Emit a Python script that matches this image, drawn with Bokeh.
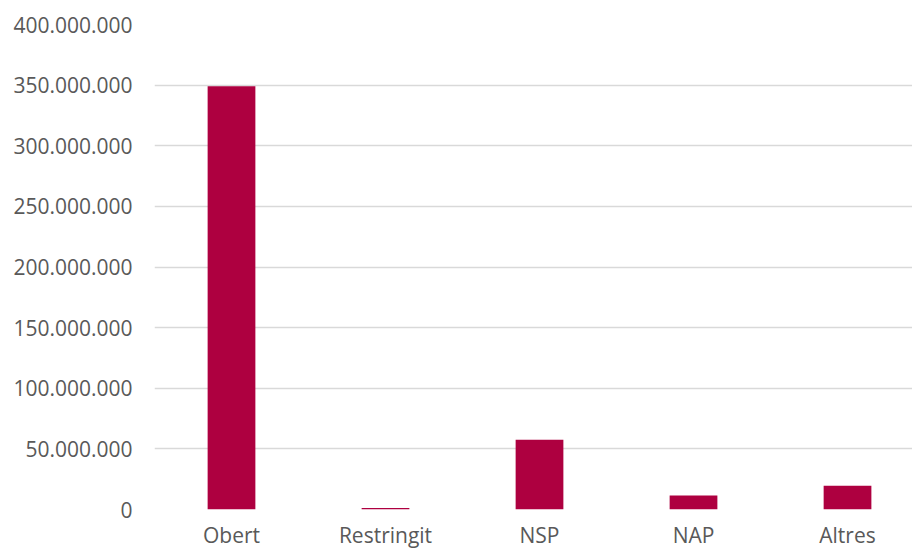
from bokeh.plotting import figure
from bokeh.models import Range1d, FixedTicker, CustomJSTickFormatter
from bokeh.embed import file_html
from bokeh.resources import INLINE

categories = ["Obert", "Restringit", "NSP", "NAP", "Altres"]
values = [349_000_000, 1_200_000, 57_500_000, 11_500_000, 19_500_000]
y_ticks = [0, 50_000_000, 100_000_000, 150_000_000, 200_000_000,
           250_000_000, 300_000_000, 350_000_000, 400_000_000]

xs = list(range(len(categories)))

p = figure(width=912, height=551, output_backend="svg", toolbar_location=None,
           x_range=Range1d(-0.5, 4.422), y_range=Range1d(0, 400_000_000),
           min_border_left=154, min_border_top=24, min_border_bottom=42,
           min_border_right=0)
p.outline_line_color = None
p.background_fill_color = "white"

p.vbar(x=xs, top=values, width=0.31, color="#AE0040", line_color=None)

font = "Open Sans"
col = "#595959"

p.yaxis.ticker = FixedTicker(ticks=y_ticks)
p.yaxis.formatter = CustomJSTickFormatter(code="""
return Math.round(tick).toString().replace(/\\B(?=(\\d{3})+(?!\\d))/g, '.');
""")
p.xaxis.ticker = FixedTicker(ticks=xs)
p.xaxis.major_label_overrides = {i: c for i, c in enumerate(categories)}

for ax in (p.xaxis[0], p.yaxis[0]):
    ax.axis_line_color = None
    ax.major_tick_line_color = None
    ax.minor_tick_line_color = None
    ax.major_tick_out = 0
    ax.major_tick_in = 0
    ax.major_label_text_font = font
    ax.major_label_text_font_size = "21px"
    ax.major_label_text_color = col

p.yaxis.major_label_standoff = 22
p.xaxis.major_label_standoff = 11

p.xgrid.grid_line_color = None
p.ygrid.ticker = FixedTicker(ticks=y_ticks)
p.ygrid.grid_line_color = "#D9D9D9"
p.ygrid.grid_line_width = 1.5

open("out.html", "w").write(file_html(p, INLINE))
